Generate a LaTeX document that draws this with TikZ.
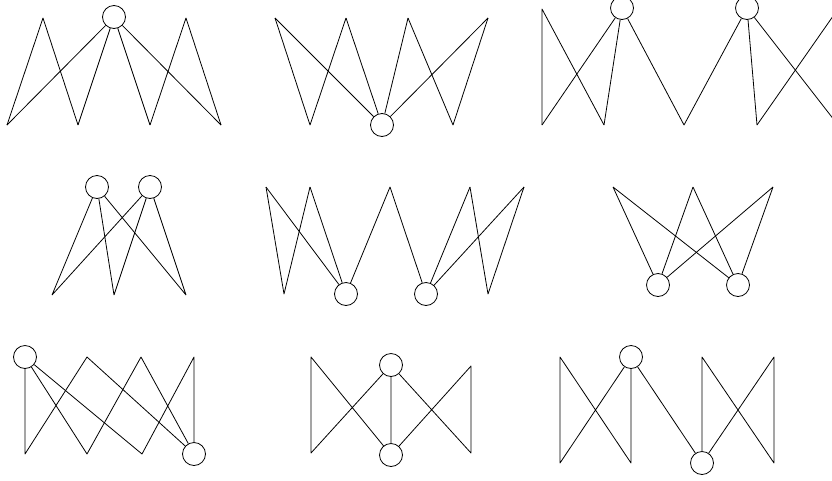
\documentclass[tikz,border=0pt]{standalone}
\usepackage{tikz}

\begin{document}
\begin{tikzpicture}[
  x=1pt,y=-1pt,line width=0.8pt,line join=round,
  hub/.style={circle,draw,minimum size=23pt,inner sep=0pt}]
\useasboundingbox (0,0) rectangle (832,480);
\clip (0,0) rectangle (832,480);
% row 1, left
\node[hub] (a) at (114,17) {};
\coordinate (a1) at (7,125);   \coordinate (a2) at (43,18);
\coordinate (a3) at (78,125);  \coordinate (a4) at (150,125);
\coordinate (a5) at (186,18);  \coordinate (a6) at (221,125);
\draw (a1) -- (a2) -- (a3) (a4) -- (a5) -- (a6);
\foreach \v in {a1,a3,a4,a6} \draw (a) -- (\v);
% row 1, middle
\node[hub] (b) at (382,125) {};
\coordinate (b1) at (275,18);  \coordinate (b2) at (310,125);
\coordinate (b3) at (346,18);  \coordinate (b4) at (408,18);
\coordinate (b5) at (453,125); \coordinate (b6) at (488,18);
\draw (b1) -- (b2) -- (b3) (b4) -- (b5) -- (b6);
\foreach \v in {b1,b3,b4,b6} \draw (b) -- (\v);
% row 1, right
\node[hub] (c) at (622,8) {};
\node[hub] (d) at (747,8) {};
\coordinate (c1) at (542,9);   \coordinate (c2) at (542,125);
\coordinate (c3) at (604,125); \coordinate (c4) at (684,125);
\coordinate (c5) at (757,125); \coordinate (c6) at (838,9);
\coordinate (c7) at (838,125);
\draw (c2) -- (c1) -- (c3) (c5) -- (c6) -- (c7);
\draw (c) -- (c2) (c) -- (c3) (c) -- (c4) -- (d);
\draw (d) -- (c5) (d) -- (c7);
% row 2, left
\node[hub] (e) at (97,187) {};
\node[hub] (f) at (150,187) {};
\coordinate (e1) at (52,295);  \coordinate (e2) at (114,295);
\coordinate (e3) at (186,295);
\foreach \v in {e1,e2,e3} \draw (e) -- (\v) (f) -- (\v);
% row 2, middle
\node[hub] (g) at (346,294) {};
\node[hub] (h) at (426,294) {};
\coordinate (g1) at (266,187); \coordinate (g2) at (284,294);
\coordinate (g3) at (310,187); \coordinate (g4) at (390,187);
\coordinate (g5) at (470,187); \coordinate (g6) at (488,294);
\coordinate (g7) at (524,187);
\draw (g1) -- (g2) -- (g3) (g5) -- (g6) -- (g7);
\draw (g) -- (g1) (g) -- (g3) (g) -- (g4) -- (h);
\draw (h) -- (g5) (h) -- (g7);
% row 2, right
\node[hub] (i) at (658,285) {};
\node[hub] (j) at (738,285) {};
\coordinate (i1) at (613,187); \coordinate (i2) at (693,187);
\coordinate (i3) at (773,187);
\foreach \v in {i1,i2,i3} \draw (i) -- (\v) (j) -- (\v);
% row 3, left
\node[hub] (k) at (25,357) {};
\node[hub] (l) at (194,454) {};
\coordinate (k1) at (25,454);  \coordinate (k2) at (87,357);
\coordinate (k3) at (87,454);  \coordinate (k4) at (141,357);
\coordinate (k5) at (142,454); \coordinate (k6) at (194,357);
\draw (k) -- (k1) -- (k2) -- (l);
\draw (k) -- (k3) -- (k4) -- (l);
\draw (k) -- (k5) -- (k6) -- (l);
% row 3, middle
\node[hub] (m) at (391,365) {};
\node[hub] (n) at (391,455) {};
\coordinate (m1) at (311,357); \coordinate (m2) at (311,453);
\coordinate (m3) at (471,366); \coordinate (m4) at (471,453);
\draw (n) -- (m1) -- (m2) -- (m) -- (n) -- (m3) -- (m4) -- (m);
% row 3, right
\node[hub] (o) at (631,357) {};
\node[hub] (p) at (702,463) {};
\coordinate (o1) at (560,357); \coordinate (o2) at (560,463);
\coordinate (o3) at (631,463); \coordinate (o4) at (702,357);
\coordinate (o5) at (774,357); \coordinate (o6) at (774,463);
\draw (o) -- (o2) -- (o1) -- (o3) -- (o) -- (p);
\draw (p) -- (o4) -- (o6) -- (o5) -- (p);
\end{tikzpicture}
\end{document}
